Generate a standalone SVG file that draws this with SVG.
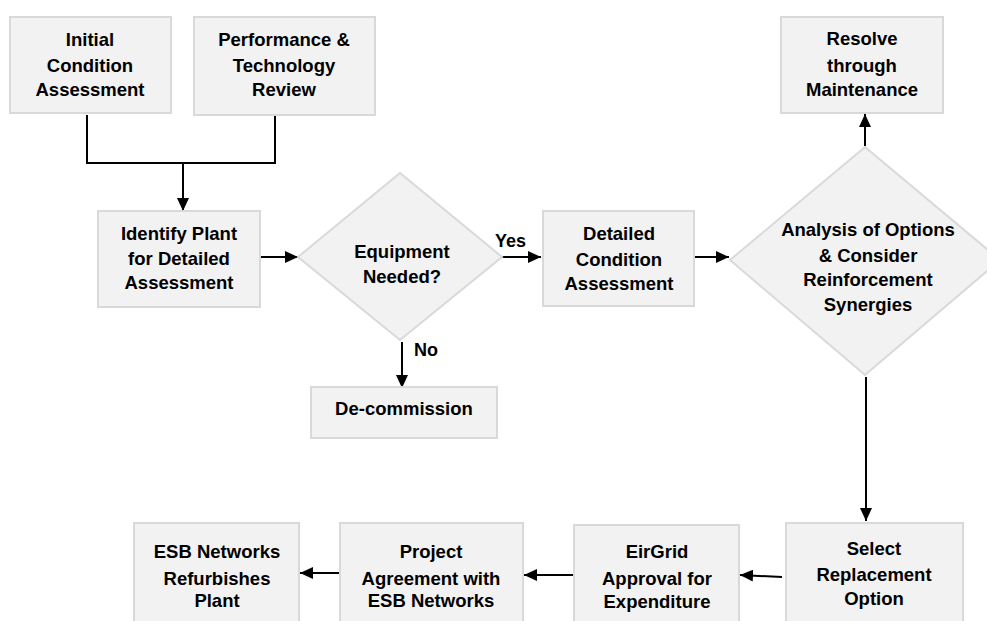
<svg xmlns="http://www.w3.org/2000/svg" width="987" height="621" viewBox="0 0 987 621">
<style>
.box{fill:#f2f2f2;stroke:#d9d9d9;stroke-width:2}
.t{font-family:"Liberation Sans",Arial,sans-serif;font-weight:bold;font-size:18.5px;fill:#000;text-anchor:middle}
.l{font-family:"Liberation Sans",Arial,sans-serif;font-weight:bold;font-size:18px;fill:#000}
.c{fill:none;stroke:#000;stroke-width:2}
</style>
<defs>
<marker id="ah" markerUnits="userSpaceOnUse" markerWidth="13" markerHeight="12" viewBox="0 0 13 12" refX="13" refY="6" orient="auto">
<path d="M0,0 L13,6 L0,12 z" fill="#000"/>
</marker>
</defs>
<rect width="987" height="621" fill="#fff"/>
<g id="connectors">
<polyline class="c" points="87,115 87,163 275,163 275,116"/>
<line class="c" x1="183" y1="163" x2="183" y2="211" marker-end="url(#ah)"/>
<line class="c" x1="260" y1="257" x2="298" y2="257" marker-end="url(#ah)"/>
<line class="c" x1="501" y1="257" x2="541" y2="257" marker-end="url(#ah)"/>
<line class="c" x1="402" y1="342" x2="402" y2="388" marker-end="url(#ah)"/>
<line class="c" x1="695" y1="257" x2="729" y2="257" marker-end="url(#ah)"/>
<line class="c" x1="865" y1="146" x2="865" y2="114" marker-end="url(#ah)"/>
<line class="c" x1="866" y1="377" x2="866" y2="521" marker-end="url(#ah)"/>
<line class="c" x1="782" y1="577" x2="740" y2="575" marker-end="url(#ah)"/>
<line class="c" x1="574" y1="575" x2="524" y2="575" marker-end="url(#ah)"/>
<line class="c" x1="339" y1="573" x2="300" y2="573" marker-end="url(#ah)"/>
</g>
<g id="initial">
<rect class="box" x="10" y="17" width="161" height="96"/>
<text class="t" x="90" y="46">Initial</text>
<text class="t" x="90" y="72">Condition</text>
<text class="t" x="90" y="96">Assessment</text>
</g>
<g id="performance">
<rect class="box" x="194" y="17" width="181" height="98"/>
<text class="t" x="284" y="46">Performance &amp;</text>
<text class="t" x="284" y="72">Technology</text>
<text class="t" x="284" y="96">Review</text>
</g>
<g id="identify">
<rect class="box" x="98" y="211" width="162" height="96"/>
<text class="t" x="179" y="240">Identify Plant</text>
<text class="t" x="179" y="265">for Detailed</text>
<text class="t" x="179" y="289">Assessment</text>
</g>
<g id="equipment">
<polygon class="box" points="400,173 502,257 400,340 298,257"/>
<text class="t" x="402" y="258">Equipment</text>
<text class="t" x="402" y="283">Needed?</text>
</g>
<g id="labels">
<text class="l" x="495" y="247">Yes</text>
<text class="l" x="414" y="356">No</text>
</g>
<g id="decommission">
<rect class="box" x="311" y="387" width="186" height="51"/>
<text class="t" x="404" y="415">De-commission</text>
</g>
<g id="detailed">
<rect class="box" x="543" y="211" width="151" height="95"/>
<text class="t" x="619" y="240">Detailed</text>
<text class="t" x="619" y="266">Condition</text>
<text class="t" x="619" y="290">Assessment</text>
</g>
<g id="resolve">
<rect class="box" x="781" y="17" width="162" height="96"/>
<text class="t" x="862" y="45">Resolve</text>
<text class="t" x="862" y="72">through</text>
<text class="t" x="862" y="96">Maintenance</text>
</g>
<g id="analysis">
<polygon class="box" points="865,147 1000,260 865,375 730,260"/>
<text class="t" x="868" y="236">Analysis of Options</text>
<text class="t" x="868" y="262">&amp; Consider</text>
<text class="t" x="868" y="286">Reinforcement</text>
<text class="t" x="868" y="311">Synergies</text>
</g>
<g id="select">
<rect class="box" x="786" y="523" width="177" height="110"/>
<text class="t" x="874" y="555">Select</text>
<text class="t" x="874" y="581">Replacement</text>
<text class="t" x="874" y="605">Option</text>
</g>
<g id="eirgrid">
<rect class="box" x="574" y="525" width="165" height="110"/>
<text class="t" x="657" y="558">EirGrid</text>
<text class="t" x="657" y="585">Approval for</text>
<text class="t" x="657" y="608">Expenditure</text>
</g>
<g id="project">
<rect class="box" x="340" y="523" width="183" height="110"/>
<text class="t" x="431" y="558">Project</text>
<text class="t" x="431" y="585">Agreement with</text>
<text class="t" x="431" y="607">ESB Networks</text>
</g>
<g id="esb">
<rect class="box" x="134" y="523" width="165" height="110"/>
<text class="t" x="217" y="558">ESB Networks</text>
<text class="t" x="217" y="585">Refurbishes</text>
<text class="t" x="217" y="607">Plant</text>
</g>
</svg>
